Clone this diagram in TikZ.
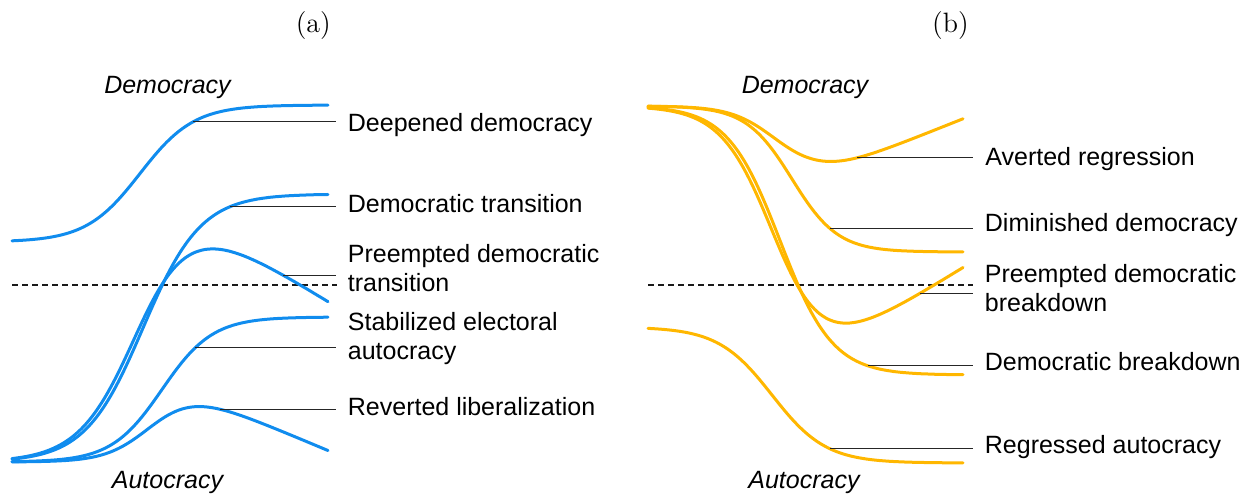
\documentclass[tikz,border=0pt]{standalone}
\usepackage{fontspec}
\newfontfamily\arial{Liberation Sans}
\definecolor{cblue}{RGB}{16,140,238}
\definecolor{corange}{RGB}{255,183,0}
\tikzset{
  bluecurve/.style={cblue, line width=1.5pt, line cap=round},
  orangecurve/.style={corange, line width=1.5pt, line cap=round},
  leader/.style={black!85, line width=0.55pt},
  midline/.style={black!90, line width=0.6pt, dash pattern=on 3pt off 2pt},
  lbl/.style={font=\arial\fontsize{12.5}{14.65}\selectfont, inner sep=0pt, align=left},
  axis/.style={font=\arial\itshape\fontsize{12.5}{14.65}\selectfont, inner sep=0pt, anchor=base},
  panel/.style={font=\fontsize{14}{16}\selectfont, inner sep=0pt, anchor=base}
}
\begin{document}
\begin{tikzpicture}[x=0.5pt, y=-0.5pt,
  declare function={sig(\z)=1/(1+exp(-min(max(\z,-9),9)));
                    sp(\z)=max(\z,0)+ln(1+exp(-abs(\z)));}]
\useasboundingbox (0,0) rectangle (1250,494);

% panel titles
\node[panel] (ta) at (313.3,32.5) {(a)};
\node[panel] (tb) at (950.5,32.5) {(b)};

% axis words
\node[axis] (dema) at (167.5,93.3) {Democracy};
\node[axis] (auta) at (167.5,488.3) {Autocracy};
\node[axis] (demb) at (805,93.3) {Democracy};
\node[axis] (autb) at (804,488.3) {Autocracy};

% dashed midlines
\coordinate (ma1) at (12,285);
\coordinate (ma2) at (337,285);
\coordinate (mb1) at (648,285);
\coordinate (mb2) at (973,285);
\draw[midline] (ma1) -- (ma2);
\draw[midline] (mb1) -- (mb2);

% ---------- panel (a) curves ----------
\draw[bluecurve] plot[domain=12:328, samples=160] (\x, {242-137*sig((\x-140)/27)});
\draw[bluecurve] plot[domain=12:328, samples=160] (\x, {462-268*sig((\x-143)/29)});
\draw[bluecurve] plot[domain=12:328, samples=160] (\x, {462-268*sig((\x-138)/29)+9.3*sp((\x-155)/15)});
\draw[bluecurve] plot[domain=12:328, samples=160] (\x, {462-145*sig((\x-162)/25.3)});
\draw[bluecurve] plot[domain=12:328, samples=160] (\x, {462-72*sig((\x-150)/22)+8.4*sp((\x-184)/20)});

% ---------- panel (b) curves ----------
\draw[orangecurve] plot[domain=648:963, samples=160] (\x, {106+66*sig((\x-775)/22)-8*sp((\x-830)/20)});
\draw[orangecurve] plot[domain=648:963, samples=160] (\x, {106+146*sig((\x-792)/23)});
\draw[orangecurve] plot[domain=648:963, samples=160] (\x, {106+269*sig((\x-775)/26.3)-9.3*sp((\x-790)/15)});
\draw[orangecurve] plot[domain=648:963, samples=160] (\x, {106+269*sig((\x-780)/26.3)});
\draw[orangecurve] plot[domain=648:963, samples=160] (\x, {327+136*sig((\x-772)/27)});

% leader line end x
\coordinate (ea) at (336,0);
\coordinate (eb) at (973,0);

% leader start points on curves (a)
\coordinate (pa1) at (193,{242-137*sig((193-140)/27)});
\coordinate (pa2) at (230,{462-268*sig((230-143)/29)});
\coordinate (pa3) at (283,{462-268*sig((283-138)/29)+9.3*sp((283-155)/15)});
\coordinate (pa4) at (195,{462-145*sig((195-162)/25.3)});
\coordinate (pa5) at (220,{462-72*sig((220-150)/22)+8.4*sp((220-184)/20)});
% leader start points on curves (b)
\coordinate (pb1) at (857,{106+66*sig((857-775)/22)-8*sp((857-830)/20)});
\coordinate (pb2) at (830,{106+146*sig((830-792)/23)});
\coordinate (pb3) at (920,{106+269*sig((920-775)/26.3)-9.3*sp((920-790)/15)});
\coordinate (pb4) at (868,{106+269*sig((868-780)/26.3)});
\coordinate (pb5) at (830,{327+136*sig((830-772)/27)});

\foreach \p in {pa1,pa2,pa3,pa4,pa5}{\draw[leader] (\p) -- (\p -| ea);}
\foreach \p in {pb1,pb2,pb3,pb4,pb5}{\draw[leader] (\p) -- (\p -| eb);}

% labels (a)
\node[lbl, anchor=base west] (la1) at (347.5,131) {Deepened democracy};
\node[lbl, anchor=base west] (la2) at (347.5,212.3) {Democratic transition};
\node[lbl, anchor=west] (la3) at (347.5,268.4) {Preempted democratic\\transition};
\node[lbl, anchor=west] (la4) at (347.5,338.6) {Stabilized electoral\\autocracy};
\node[lbl, anchor=base west] (la5) at (347.5,415.7) {Reverted liberalization};
% labels (b)
\node[lbl, anchor=base west] (lb1) at (985,165.7) {Averted regression};
\node[lbl, anchor=base west] (lb2) at (984.5,231.7) {Diminished democracy};
\node[lbl, anchor=west] (lb3) at (984.5,288) {Preempted democratic\\breakdown};
\node[lbl, anchor=base west] (lb4) at (984.5,370.7) {Democratic breakdown};
\node[lbl, anchor=base west] (lb5) at (984.5,453.3) {Regressed autocracy};
\end{tikzpicture}
\end{document}
